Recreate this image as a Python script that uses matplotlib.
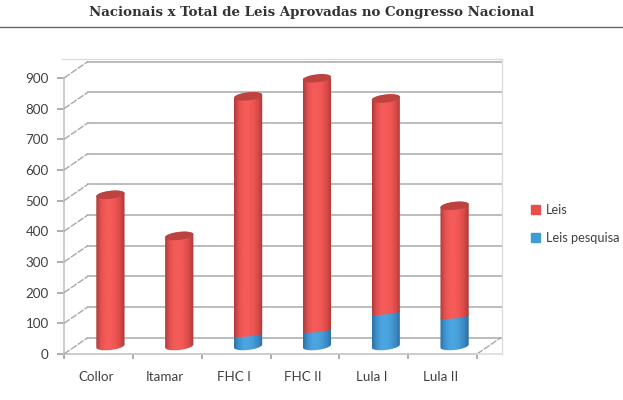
import numpy as np
import matplotlib
matplotlib.use('Agg')
import matplotlib.pyplot as plt
from matplotlib.lines import Line2D
from matplotlib.patches import Patch
from matplotlib.path import Path
from matplotlib.colors import LinearSegmentedColormap
from matplotlib.transforms import offset_copy

governos = ['Collor', 'Itamar', 'FHC I', 'FHC II', 'Lula I', 'Lula II']
leis = [493, 359, 778, 823, 699, 362]
leis_pesquisa = [0, 0, 36, 50, 108, 95]
y_ticks = [0, 100, 200, 300, 400, 500, 600, 700, 800, 900]

W, H = 623, 400
plt.rcParams['font.family'] = ['Lato', 'DejaVu Sans']
TXT = '#404040'
GRID = '#bcbcbc'
FRAME = '#dcdcdc'

verm = LinearSegmentedColormap.from_list('verm', ['#ad3b3b', '#e25150', '#f55b59', '#f55b59', '#ee5553', '#d84a48', '#a83838'])
azul = LinearSegmentedColormap.from_list('azul', ['#2a6fa6', '#3f93cd', '#4ba5e0', '#4ba5e0', '#469cd6', '#3a88c2', '#296ca2'])


def px_line(x0, y0, x1, y1, **kw):
    # line in image pixels, y measured from the top
    fig.add_artist(Line2D([x0 / W, x1 / W], [1 - y0 / H, 1 - y1 / H], transform=fig.transFigure, **kw))


def anel(x, y, w, t, b=13):
    # points of the tilted cylinder ellipse
    return x + w / 2 * np.cos(t), y + b * np.sin(t) + 5 * np.cos(t)


def cilindro(ax, x, y0, y1, w, cmap, z, b=13):
    bx, by = anel(x, y0, w, np.linspace(np.pi, 2 * np.pi, 40), b)
    tx, ty = anel(x, y1, w, np.linspace(0, np.pi, 40))
    path = Path(np.column_stack([np.r_[bx, tx, bx[0]], np.r_[by, ty, by[0]]]))
    grad = np.linspace(0, 1, 128).reshape(1, -1)
    im = ax.imshow(grad, cmap=cmap, aspect='auto', zorder=z, transform=meio,
                   extent=(x - w / 2, x + w / 2, y0 - 20, y1 + 20))
    im.set_clip_box(None)
    im.set_clip_path(path, meio)


fig = plt.figure(figsize=(W / 100, H / 100), dpi=100)
ax = fig.add_axes([64 / W, 1 - 354 / H, (477 - 64) / W, (354 - 78) / H])

n = len(governos)
x = np.arange(n) + 0.5
larg = 0.41
ax.set_xlim(0, n)
ax.set_ylim(0, 900)

# transforms for the back wall and the plane where the bars stand
fundo = offset_copy(ax.transData, fig=fig, x=24, y=16.5, units='dots')
meio = offset_copy(ax.transData, fig=fig, x=12, y=8, units='dots')

for v in y_ticks:
    ax.plot([0, n], [v, v], color=GRID, lw=1.4, transform=fundo, clip_on=False, zorder=1)
    p0 = ax.transData.transform((0, v))
    p1 = fundo.transform((0, v))
    px_line(p0[0], H - p0[1], p1[0], H - p1[1], color='#a8a8a8', lw=1.0, ls=(0, (5, 1)), zorder=1)

# floor edge on the right side
p0 = ax.transData.transform((n, 0))
p1 = fundo.transform((n, 0))
px_line(p0[0], H - p0[1], p1[0], H - p1[1], color='#a8a8a8', lw=1.0, ls=(0, (5, 1)))

# outer frame
px_line(62, 58.5, 502, 58.5, color=FRAME, lw=1.0)
px_line(502, 58.5, 502, 354, color=FRAME, lw=1.0)
px_line(477, 354, 502, 354, color=FRAME, lw=1.2)

for i in range(n):
    base = leis_pesquisa[i]
    topo = base + leis[i]
    if base > 0:
        cilindro(ax, x[i], 0, base, larg, azul, 3)
        cilindro(ax, x[i], base, topo, larg, verm, 4, b=5)
    else:
        cilindro(ax, x[i], base, topo, larg, verm, 4)
    tx, ty = anel(x[i], topo, larg, np.linspace(0, 2 * np.pi, 60))
    ax.fill(tx, ty, color='#bd4341', lw=0, zorder=5, transform=meio, clip_on=False)

ax.set_xlim(0, n)
ax.set_ylim(0, 900)
ax.patch.set_visible(False)

for s in ['top', 'right']:
    ax.spines[s].set_visible(False)
for s in ['left', 'bottom']:
    ax.spines[s].set_color('#c4c4c4')
    ax.spines[s].set_linewidth(1.2)

ax.set_yticks(y_ticks)
ax.tick_params(axis='y', length=5, width=1.2, color='#a0a0a0', labelsize=9.6, labelcolor=TXT, pad=6)
ax.set_xticks(np.arange(n + 1))
ax.set_xticklabels([])
ax.tick_params(axis='x', which='major', length=3.5, width=1.2, color='#a0a0a0', direction='out')
ax.set_xticks(x - 0.035, minor=True)
ax.set_xticklabels(governos, minor=True)
ax.tick_params(axis='x', which='minor', length=0, labelsize=9.6, labelcolor=TXT, pad=12)

hs = [Patch(color='#e8504c', label='Leis'), Patch(color='#3d9bd6', label='Leis pesquisa')]
fig.legend(handles=hs, loc='upper left', bbox_to_anchor=(528.5 / W, 1 - 201 / H), frameon=False,
           fontsize=9.2, labelcolor=TXT, handlelength=0.72, handleheight=0.72, handletextpad=0.42,
           labelspacing=1.28, borderpad=0.2, borderaxespad=0)

fig.text(311.5 / W, 1 - 12.5 / H, 'Nacionais x Total de Leis Aprovadas no Congresso Nacional',
         family='DejaVu Serif', weight='bold', fontsize=9.65, color='#333333', ha='center', va='center')
px_line(0, 27, 623, 27, color='#666666', lw=1.0)

fig.savefig('out.png', dpi=100)
